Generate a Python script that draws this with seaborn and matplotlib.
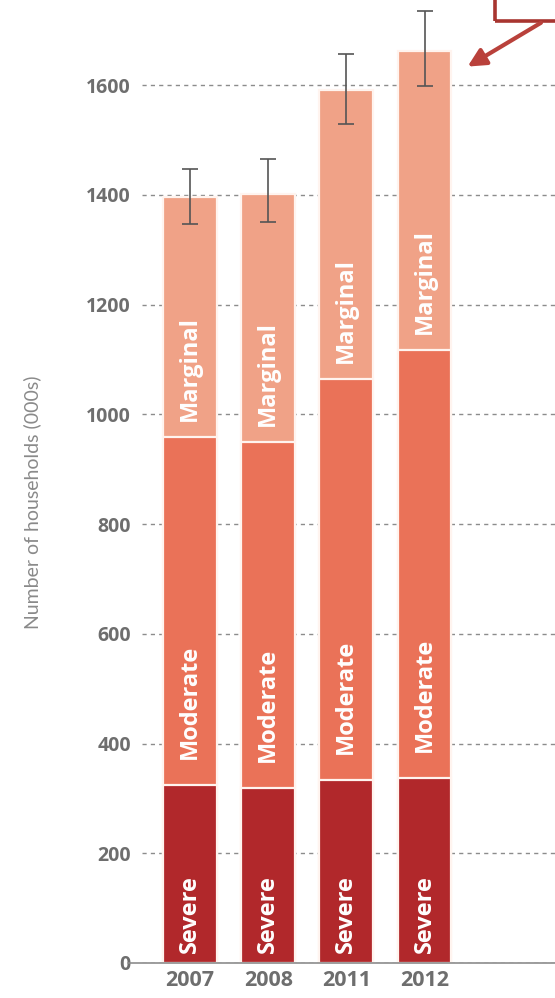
import numpy as np
import pandas as pd
import matplotlib
matplotlib.use("Agg")
import matplotlib.pyplot as plt
import seaborn as sns
from matplotlib.patches import Rectangle

years = ["2007", "2008", "2011", "2012"]
severe = [325, 318, 333, 338]
moderate = [633, 631, 731, 779]
marginal = [438, 452, 527, 545]
err_low = [1347, 1350, 1529, 1598]
err_high = [1447, 1465, 1657, 1735]
segment_names = ["Severe", "Moderate", "Marginal"]
yticks = [0, 200, 400, 600, 800, 1000, 1200, 1400, 1600]

c_severe = "#b1282b"
c_moderate = "#ea7258"
c_marginal = "#f0a287"

sns.set_theme(style="white")
plt.rcParams["font.family"] = ["Open Sans", "DejaVu Sans"]

df = pd.DataFrame({"year": years, "severe": severe, "moderate": moderate, "marginal": marginal})
df["lvl1"] = df["severe"]
df["lvl2"] = df["severe"] + df["moderate"]
df["lvl3"] = df["lvl2"] + df["marginal"]

fig = plt.figure(figsize=(5.55, 9.98), dpi=100)
ax = fig.add_axes([142 / 555, 35 / 998, (555 - 142) / 555, 960.3 / 998])

for col, color in [("lvl3", c_marginal), ("lvl2", c_moderate), ("lvl1", c_severe)]:
    sns.barplot(data=df, x="year", y=col, order=years, color=color, width=0.69,
                edgecolor="#fff4ef", linewidth=1.6, saturation=1, ax=ax, zorder=3)

x = np.arange(len(years))
tot = df["lvl3"].values
ax.errorbar(x, tot, yerr=[tot - np.array(err_low), np.array(err_high) - tot],
            fmt="none", ecolor="#555555", elinewidth=1.2, capsize=6, capthick=1.2, zorder=5)

# segment labels
bottoms = [np.zeros(len(years)), df["lvl1"].values, df["lvl2"].values]
offsets = [10, 26, 16]
for name, bot, off in zip(segment_names, bottoms, offsets):
    for xi, b in zip(x, bot):
        ax.annotate(name, (xi, b), xytext=(0, off), textcoords="offset pixels",
                    rotation=90, ha="center", va="bottom", color="white",
                    fontsize=17, fontweight="bold", zorder=6)

ax.set_xlim(-0.614, 4.669)
ax.set_ylim(0, 1750)
ax.set_yticks(yticks)
ax.set_yticklabels([str(t) for t in yticks], fontsize=14, fontweight="bold", color="#6e6e6e")
ax.tick_params(axis="y", length=0, pad=8)
ax.tick_params(axis="x", length=0, pad=5)
for lbl in ax.get_xticklabels():
    lbl.set_fontsize(15.5)
    lbl.set_fontweight("bold")
    lbl.set_color("#6e6e6e")
ax.set_xlabel("")
ax.set_ylabel("Number of households (000s)", fontsize=14, color="#8a8a8a",
              fontfamily="Lato", fontweight="normal")
ax.yaxis.set_label_coords(-0.245, 0.48)

for s in ["top", "right", "left", "bottom"]:
    ax.spines[s].set_visible(False)
ax.grid(axis="y", color="#8c8c8c", linestyle=(0, (3, 3)), linewidth=1.0, zorder=0)
ax.set_axisbelow(True)
ax.axhline(0, xmin=-0.035, xmax=1, color="#8c8c8c", linewidth=1.2, clip_on=False, zorder=4)

# annotation callout
box = Rectangle((3.9, 1716), 1.2, 200, fill=False, edgecolor="#a83530", linewidth=2.6,
                clip_on=False, zorder=7)
ax.add_patch(box)
ax.annotate("", xy=(3.52, 1631), xytext=(4.52, 1716),
            arrowprops=dict(arrowstyle="-|>,head_length=0.9,head_width=0.45", color="#b9413b",
                            lw=3), annotation_clip=False, zorder=7)

fig.savefig("out.png", dpi=100)
